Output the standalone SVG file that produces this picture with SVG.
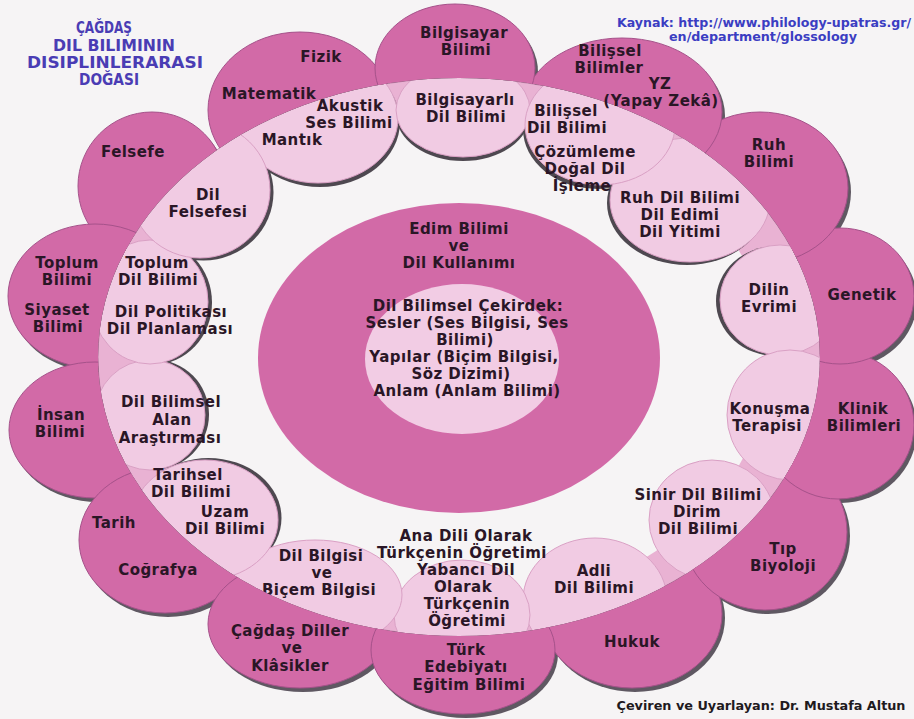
<svg xmlns="http://www.w3.org/2000/svg" width="914" height="719" viewBox="0 0 914 719">
<style>
.t{font-family:"DejaVu Sans","Liberation Sans",sans-serif;font-weight:bold;font-size:15px;letter-spacing:0.45px;text-anchor:middle;fill:#2a1626}
.ttl{font-family:"DejaVu Sans","Liberation Sans",sans-serif;font-weight:bold;font-size:15px;text-anchor:middle;fill:#4a3cb4}
.src{font-family:"DejaVu Sans","Liberation Sans",sans-serif;font-weight:bold;font-size:11.5px;text-anchor:middle;fill:#3b3dc2}
.cr{font-family:"DejaVu Sans","Liberation Sans",sans-serif;font-weight:bold;font-size:11.5px;text-anchor:middle;fill:#1f1a1e}
.oc{fill:#d26aa7;stroke:#a5528a;stroke-width:1}
.ic{fill:#f1cbe3;stroke:#d9a0c4;stroke-width:1}
.osh{fill:#5f5862}
.ish{fill:#4e4850}
</style>
<defs>
<clipPath id="inBand"><ellipse cx="459" cy="357" rx="361" ry="279"/></clipPath>
<clipPath id="outBand"><path clip-rule="evenodd" d="M0 0H914V719H0Z M98 357A361 279 0 1 0 820 357A361 279 0 1 0 98 357Z"/></clipPath>
</defs>
<rect width="914" height="719" fill="#f6f4f5"/>

<g id="band">
<ellipse cx="459" cy="357" rx="361" ry="279" fill="#e9b2d3" stroke="#c486ae" stroke-width="1"/>
<ellipse cx="459" cy="358" rx="310" ry="250" fill="#f6f4f5"/>
</g>

<g id="inner-shadows" clip-path="url(#inBand)">
<ellipse class="ish" cx="320" cy="122" rx="80" ry="65"/>
<ellipse class="ish" cx="463" cy="114" rx="67" ry="47"/>
<ellipse class="ish" cx="598" cy="129" rx="75" ry="60"/>
<ellipse class="ish" cx="687" cy="203" rx="80" ry="62"/>
<ellipse class="ish" cx="776" cy="301" rx="60" ry="55"/>
<ellipse class="ish" cx="203.5" cy="192.5" rx="70" ry="68"/>
<ellipse class="ish" cx="154" cy="302.5" rx="58" ry="62"/>
<ellipse class="ish" cx="154" cy="414.5" rx="55" ry="55"/>
<ellipse class="ish" cx="208.5" cy="518" rx="73" ry="60"/>
</g>

<g id="i-ruhdil">
<ellipse class="ic" cx="690" cy="200" rx="80" ry="62" clip-path="url(#inBand)"/>
<text class="t" x="680" y="203">Ruh Dil Bilimi</text>
<text class="t" x="680" y="220">Dil Edimi</text>
<text class="t" x="680" y="237">Dil Yitimi</text>
</g>
<g id="i-akustik">
<ellipse class="ic" cx="318" cy="118" rx="80" ry="65" clip-path="url(#inBand)"/>
<text class="t" x="350" y="111">Akustik</text>
<text class="t" x="349" y="128">Ses Bilimi</text>
<text class="t" x="292" y="145">Mantık</text>
</g>
<g id="i-bilgisayarli">
<ellipse class="ic" cx="463" cy="110" rx="67" ry="47" clip-path="url(#inBand)"/>
<text class="t" x="465" y="105">Bilgisayarlı</text>
<text class="t" x="466" y="122">Dil Bilimi</text>
</g>
<g id="i-bilissel">
<ellipse class="ic" cx="600" cy="125" rx="75" ry="60" clip-path="url(#inBand)"/>
<text class="t" x="566" y="116">Bilişsel</text>
<text class="t" x="567" y="133">Dil Bilimi</text>
<text class="t" x="585" y="157">Çözümleme</text>
<text class="t" x="585" y="174">Doğal Dil</text>
<text class="t" x="582" y="191">İşleme</text>
</g>
<g id="i-evrim">
<ellipse class="ic" cx="780" cy="300" rx="60" ry="55" clip-path="url(#inBand)"/>
<text class="t" x="769" y="295">Dilin</text>
<text class="t" x="769" y="312">Evrimi</text>
</g>
<g id="i-konusma">
<ellipse class="ic" cx="790" cy="415" rx="63" ry="65" clip-path="url(#inBand)"/>
<text class="t" x="770" y="414">Konuşma</text>
<text class="t" x="767" y="431">Terapisi</text>
</g>
<g id="i-sinir">
<ellipse class="ic" cx="712" cy="520" rx="63" ry="60" clip-path="url(#inBand)"/>
<text class="t" x="698" y="500">Sinir Dil Bilimi</text>
<text class="t" x="697" y="517">Dirim</text>
<text class="t" x="698" y="534">Dil Bilimi</text>
</g>
<g id="i-adli">
<ellipse class="ic" cx="595" cy="600" rx="72" ry="62" clip-path="url(#inBand)"/>
<text class="t" x="594" y="576">Adli</text>
<text class="t" x="594" y="593">Dil Bilimi</text>
</g>
<g id="i-anadili">
<ellipse class="ic" cx="462" cy="615" rx="68" ry="55" clip-path="url(#inBand)"/>
<text class="t" x="466" y="541">Ana Dili Olarak</text>
<text class="t" x="462" y="558">Türkçenin Öğretimi</text>
<text class="t" x="466" y="575">Yabancı Dil</text>
<text class="t" x="463" y="592">Olarak</text>
<text class="t" x="467" y="609">Türkçenin</text>
<text class="t" x="467" y="626">Öğretimi</text>
</g>
<g id="i-dilbilgisi">
<ellipse class="ic" cx="315" cy="595" rx="87" ry="55" clip-path="url(#inBand)"/>
<text class="t" x="321" y="561">Dil Bilgisi</text>
<text class="t" x="322" y="578">ve</text>
<text class="t" x="319" y="595">Biçem Bilgisi</text>
</g>
<g id="i-alan">
<ellipse class="ic" cx="150" cy="415" rx="55" ry="55" clip-path="url(#inBand)"/>
<text class="t" x="171" y="407">Dil Bilimsel</text>
<text class="t" x="172" y="425">Alan</text>
<text class="t" x="170" y="443">Araştırması</text>
</g>
<g id="i-tarihsel">
<ellipse class="ic" cx="205" cy="520" rx="73" ry="60" clip-path="url(#inBand)"/>
<text class="t" x="188" y="480">Tarihsel</text>
<text class="t" x="191" y="497">Dil Bilimi</text>
<text class="t" x="225" y="517">Uzam</text>
<text class="t" x="225" y="534">Dil Bilimi</text>
</g>
<g id="i-toplumdil">
<ellipse class="ic" cx="150" cy="302" rx="58" ry="62" clip-path="url(#inBand)"/>
<text class="t" x="157" y="268">Toplum</text>
<text class="t" x="158" y="285">Dil Bilimi</text>
<text class="t" x="171" y="317">Dil Politikası</text>
<text class="t" x="170" y="334">Dil Planlaması</text>
</g>
<g id="i-felsefesi">
<ellipse class="ic" cx="200" cy="190" rx="70" ry="68" clip-path="url(#inBand)"/>
<text class="t" x="208" y="200">Dil</text>
<text class="t" x="208" y="217">Felsefesi</text>
</g>

<g id="core">
<ellipse cx="459" cy="358" rx="201" ry="155" fill="#d26aa7"/>
<ellipse cx="462" cy="359" rx="97" ry="75" fill="#f2cce4"/>
<text class="t" x="459" y="234">Edim Bilimi</text>
<text class="t" x="459" y="251">ve</text>
<text class="t" x="459" y="268">Dil Kullanımı</text>
<text class="t" x="468" y="311">Dil Bilimsel Çekirdek:</text>
<text class="t" x="467" y="328">Sesler (Ses Bilgisi, Ses</text>
<text class="t" x="465" y="345">Bilimi)</text>
<text class="t" x="464" y="362">Yapılar (Biçim Bilgisi,</text>
<text class="t" x="461" y="379">Söz Dizimi)</text>
<text class="t" x="467" y="396">Anlam (Anlam Bilimi)</text>
</g>

<g id="outer-shadows" clip-path="url(#outBand)">
<ellipse class="osh" cx="458" cy="72" rx="80" ry="64"/>
<ellipse class="osh" cx="625" cy="116" rx="100" ry="74"/>
<ellipse class="osh" cx="763" cy="192" rx="88" ry="76"/>
<ellipse class="osh" cx="843" cy="300" rx="74" ry="68"/>
<ellipse class="osh" cx="841" cy="429" rx="76" ry="74"/>
<ellipse class="osh" cx="768" cy="536" rx="82" ry="78"/>
<ellipse class="osh" cx="635" cy="618" rx="90" ry="74"/>
<ellipse class="osh" cx="466" cy="654" rx="92" ry="64"/>
<ellipse class="osh" cx="303" cy="628" rx="92" ry="64"/>
<ellipse class="osh" cx="168" cy="544" rx="86" ry="73"/>
<ellipse class="osh" cx="98" cy="434" rx="86" ry="68"/>
<ellipse class="osh" cx="98" cy="300" rx="87" ry="72"/>
<ellipse class="osh" cx="155" cy="190" rx="74" ry="74"/>
<ellipse class="osh" cx="303" cy="114" rx="92" ry="78"/>
</g>

<g id="o-fizik">
<ellipse class="oc" cx="300" cy="110" rx="92" ry="78" clip-path="url(#outBand)"/>
<text class="t" x="321" y="62">Fizik</text>
<text class="t" x="269" y="99">Matematik</text>
</g>
<g id="o-felsefe">
<ellipse class="oc" cx="152" cy="186" rx="74" ry="74" clip-path="url(#outBand)"/>
<text class="t" x="133" y="157">Felsefe</text>
</g>
<g id="o-toplum">
<ellipse class="oc" cx="95" cy="296" rx="87" ry="72" clip-path="url(#outBand)"/>
<text class="t" x="67" y="268">Toplum</text>
<text class="t" x="67" y="285">Bilimi</text>
<text class="t" x="57" y="315">Siyaset</text>
<text class="t" x="58" y="332">Bilimi</text>
</g>
<g id="o-insan">
<ellipse class="oc" cx="95" cy="430" rx="86" ry="68" clip-path="url(#outBand)"/>
<text class="t" x="61" y="420">İnsan</text>
<text class="t" x="60" y="437">Bilimi</text>
</g>
<g id="o-tarih">
<ellipse class="oc" cx="165" cy="540" rx="86" ry="73" clip-path="url(#outBand)"/>
<text class="t" x="114" y="528">Tarih</text>
<text class="t" x="158" y="575">Coğrafya</text>
</g>
<g id="o-cagdas">
<ellipse class="oc" cx="300" cy="624" rx="92" ry="64" clip-path="url(#outBand)"/>
<text class="t" x="290" y="636">Çağdaş Diller</text>
<text class="t" x="292" y="653">ve</text>
<text class="t" x="290" y="671">Klâsikler</text>
</g>
<g id="o-hukuk">
<ellipse class="oc" cx="632" cy="614" rx="90" ry="74" clip-path="url(#outBand)"/>
<text class="t" x="632" y="647">Hukuk</text>
</g>
<g id="o-turk">
<ellipse class="oc" cx="463" cy="650" rx="92" ry="64" clip-path="url(#outBand)"/>
<text class="t" x="466" y="655">Türk</text>
<text class="t" x="466" y="672">Edebiyatı</text>
<text class="t" x="469" y="690">Eğitim Bilimi</text>
</g>
<g id="o-tip">
<ellipse class="oc" cx="765" cy="532" rx="82" ry="78" clip-path="url(#outBand)"/>
<text class="t" x="783" y="554">Tıp</text>
<text class="t" x="783" y="571">Biyoloji</text>
</g>
<g id="o-klinik">
<ellipse class="oc" cx="838" cy="425" rx="76" ry="74" clip-path="url(#outBand)"/>
<text class="t" x="863" y="414">Klinik</text>
<text class="t" x="864" y="431">Bilimleri</text>
</g>
<g id="o-genetik">
<ellipse class="oc" cx="840" cy="296" rx="74" ry="68" clip-path="url(#outBand)"/>
<text class="t" x="862" y="300">Genetik</text>
</g>
<g id="o-ruh">
<ellipse class="oc" cx="760" cy="188" rx="88" ry="76" clip-path="url(#outBand)"/>
<text class="t" x="769" y="150">Ruh</text>
<text class="t" x="769" y="167">Bilimi</text>
</g>
<g id="o-bilissel">
<ellipse class="oc" cx="622" cy="112" rx="100" ry="74" clip-path="url(#outBand)"/>
<text class="t" x="610" y="56">Bilişsel</text>
<text class="t" x="609" y="73">Bilimler</text>
<text class="t" x="660" y="89">YZ</text>
<text class="t" x="661" y="106">(Yapay Zekâ)</text>
</g>
<g id="o-bilgisayar">
<ellipse class="oc" cx="455" cy="68" rx="80" ry="64" clip-path="url(#outBand)"/>
<text class="t" x="464" y="38">Bilgisayar</text>
<text class="t" x="466" y="55">Bilimi</text>
</g>

<g id="connectors"/>

<g id="title">
<text class="ttl" x="104" y="33" textLength="56" lengthAdjust="spacingAndGlyphs">ÇAĞDAŞ</text>
<text class="ttl" x="114" y="51" textLength="122" lengthAdjust="spacingAndGlyphs">DIL BILIMININ</text>
<text class="ttl" x="115" y="68" textLength="176" lengthAdjust="spacingAndGlyphs">DISIPLINLERARASI</text>
<text class="ttl" x="109" y="85" textLength="60" lengthAdjust="spacingAndGlyphs">DOĞASI</text>
</g>
<g id="source">
<text class="src" x="764" y="27" textLength="294" lengthAdjust="spacingAndGlyphs">Kaynak: http://www.philology-upatras.gr/</text>
<text class="src" x="763" y="41" textLength="188" lengthAdjust="spacingAndGlyphs">en/department/glossology</text>
</g>
<g id="credit">
<text class="cr" x="761" y="710" textLength="289" lengthAdjust="spacingAndGlyphs">Çeviren ve Uyarlayan: Dr. Mustafa Altun</text>
</g>
</svg>
